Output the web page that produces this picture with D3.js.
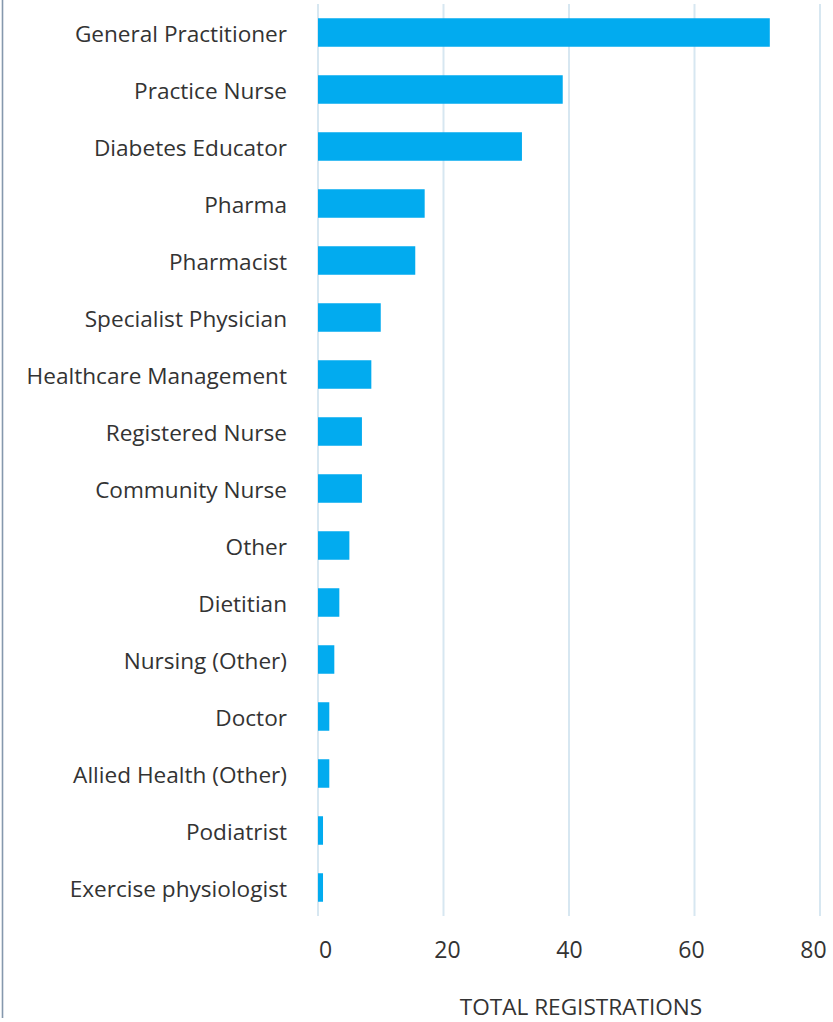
<!DOCTYPE html>
<html>
<head>
<meta charset="utf-8">
<script src="https://cdn.jsdelivr.net/npm/d3@7"></script>
<style>
  html, body { margin: 0; padding: 0; background: #ffffff; }
  svg { display: block; }
  text { font-family: "Open Sans", "Noto Sans", sans-serif; fill: #333333; }
</style>
</head>
<body>
<svg id="chart" width="833" height="1022"></svg>
<script>
const categories = [
  "General Practitioner", "Practice Nurse", "Diabetes Educator", "Pharma",
  "Pharmacist", "Specialist Physician", "Healthcare Management", "Registered Nurse",
  "Community Nurse", "Other", "Dietitian", "Nursing (Other)", "Doctor",
  "Allied Health (Other)", "Podiatrist", "Exercise physiologist"
];
const registrations = [72, 39, 32.5, 17, 15.5, 10, 8.5, 7, 7, 5, 3.4, 2.6, 1.8, 1.8, 0.8, 0.8];
const tickValues = [0, 20, 40, 60, 80];
const axisTitle = "TOTAL REGISTRATIONS";

const svg = d3.select("#chart");

const x = d3.scaleLinear().domain([0, 80]).range([318, 820]);
const xLabel = d3.scaleLinear().domain(x.domain()).range([x(0) + 7, x(80) - 7]);
const y = d3.scaleBand().domain(categories).range([4, 916]).paddingInner(0.5).paddingOuter(0.25);

// left border line
svg.append("line")
  .attr("x1", 2.5).attr("x2", 2.5).attr("y1", 0).attr("y2", 1018)
  .attr("stroke", "#8598ad").attr("stroke-width", 1.6);

// gridlines
svg.append("g").selectAll("line").data(tickValues).join("line")
  .attr("x1", d => x(d)).attr("x2", d => x(d))
  .attr("y1", y.range()[0]).attr("y2", y.range()[1])
  .attr("stroke", "#d7e7f1").attr("stroke-width", 2);

// bars
svg.append("g").selectAll("rect").data(categories).join("rect")
  .attr("x", x(0))
  .attr("y", d => y(d))
  .attr("width", (d, i) => x(registrations[i]) - x(0))
  .attr("height", y.bandwidth())
  .attr("fill", "#02abef");

// category labels (y axis)
const yAxis = d3.axisLeft(y).tickSize(0).tickPadding(0);
const gy = svg.append("g").attr("transform", "translate(287,0)").call(yAxis);
gy.select(".domain").remove();
gy.selectAll("text")
  .attr("font-size", 22.6)
  .attr("fill", "#333333")
  .attr("dy", "0.42em")
  .style("font-family", '"Open Sans", sans-serif');

// x tick labels
const xAxis = d3.axisBottom(xLabel).tickValues(tickValues).tickSize(0).tickPadding(0);
const gx = svg.append("g").attr("transform", "translate(0,942)").call(xAxis);
gx.select(".domain").remove();
gx.selectAll("text")
  .attr("font-size", 23)
  .attr("fill", "#333333")
  .attr("dy", "0.71em")
  .style("font-family", '"Open Sans", sans-serif');

// axis title
svg.append("text")
  .attr("x", 581).attr("y", 1015)
  .attr("text-anchor", "middle")
  .attr("font-size", 22.6)
  .text(axisTitle);
</script>
</body>
</html>
